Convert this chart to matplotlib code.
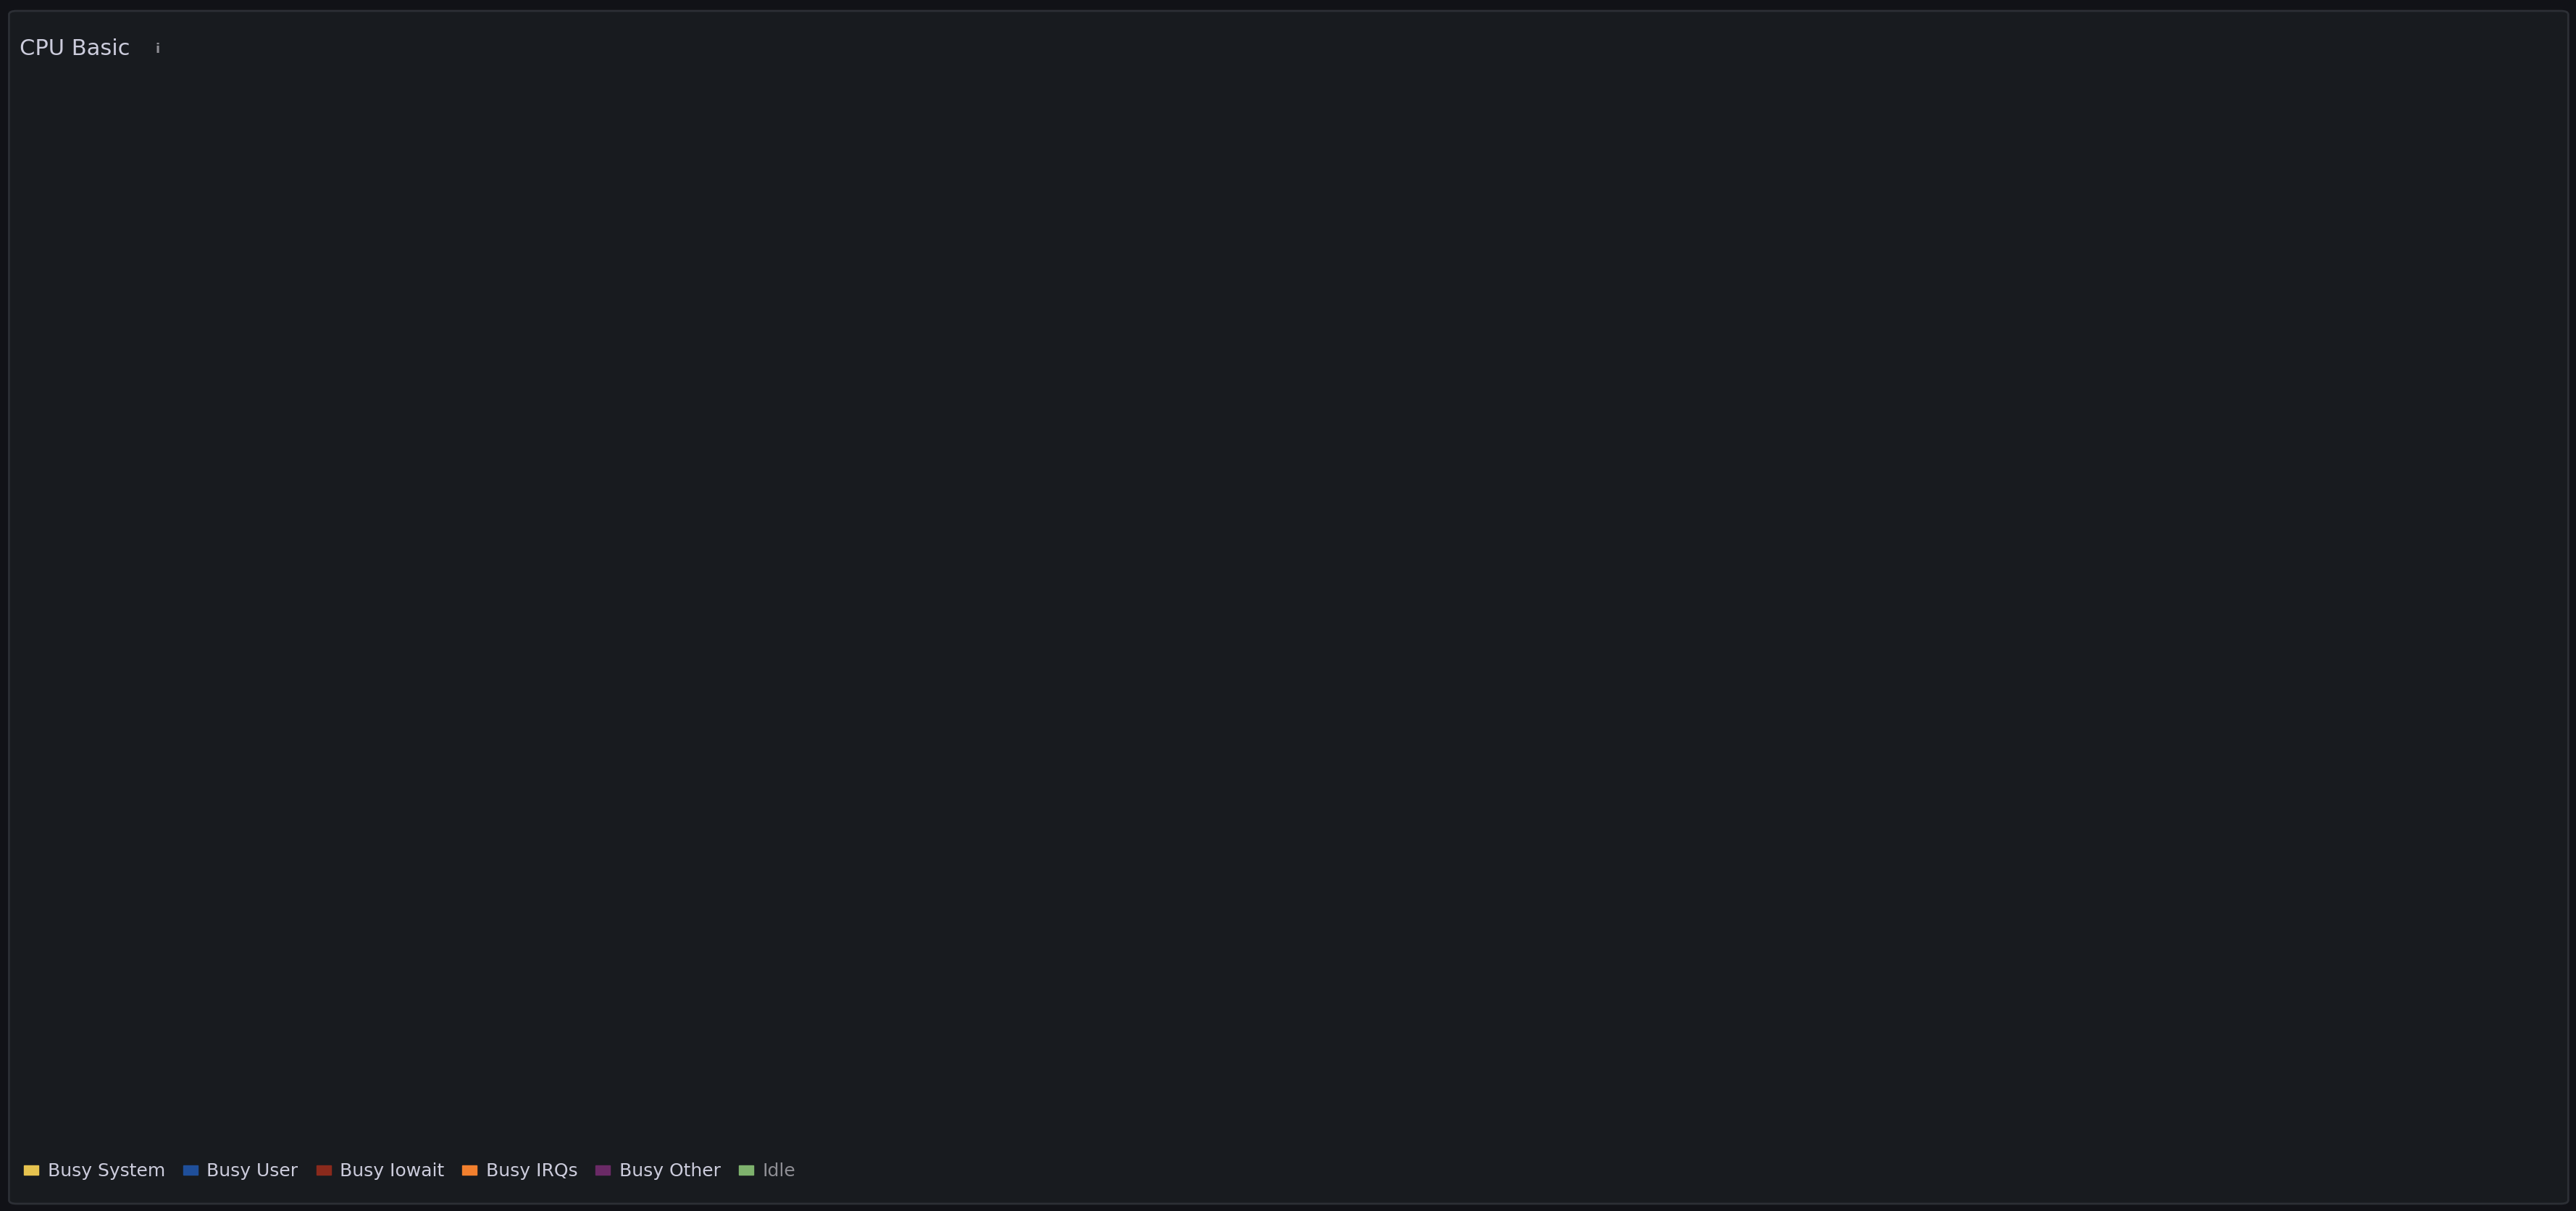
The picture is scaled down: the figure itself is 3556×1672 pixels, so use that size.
import matplotlib
matplotlib.use("Agg")
import matplotlib.pyplot as plt
import matplotlib.dates as mdates
from matplotlib.patches import FancyBboxPatch, Patch, Ellipse
import pandas as pd
import numpy as np

times = ["14:22","14:25","14:30","14:35","14:40","14:43","14:45","14:50","14:55","15:00","15:03","15:06",
         "15:10","15:15","15:20","15:25","15:30","15:35","15:40","15:43","15:45","15:50","15:55","16:00",
         "16:05","16:10","16:15","16:20","16:25","16:30","16:35","16:40","16:45","16:50","16:55","17:00",
         "17:01","17:05","17:10","17:15","17:20","17:25","17:30","17:35","17:40","17:43","17:45","17:50",
         "17:55","18:00","18:05","18:10","18:15","18:20","18:25","18:30","18:33","18:35","18:40","18:45",
         "18:50","18:52","18:55","19:00","19:05","19:10","19:15","19:20","19:23","19:25","19:30","19:35",
         "19:40","19:45","19:50","19:55","20:00","20:05","20:10","20:15","20:20","20:25","20:30","20:35",
         "20:40","20:45","20:50","20:55","21:00","21:05","21:10","21:15","21:20","21:25","21:30","21:35",
         "21:40","21:44"]
total = [18.0,17.7,17.4,17.9,18.1,18.5,17.4,17.2,17.1,17.6,18.2,17.6,
         18.0,17.6,17.5,17.6,17.0,17.5,17.8,18.2,17.5,16.9,17.1,17.3,
         17.8,17.2,18.7,17.5,17.2,18.0,17.3,17.0,17.1,16.7,16.8,17.2,
         18.1,17.3,17.8,17.5,17.3,17.2,17.0,18.0,18.8,18.1,18.6,19.7,
         19.2,18.3,18.8,17.7,18.3,18.9,18.2,18.2,17.6,18.7,18.1,18.4,
         18.6,17.8,18.9,19.5,18.2,17.9,17.6,18.0,19.2,18.3,18.2,17.7,
         17.9,17.8,17.8,18.0,18.4,18.1,18.3,18.2,18.6,18.1,18.1,18.9,
         18.8,19.1,18.8,18.2,18.4,19.5,18.2,17.9,17.9,17.8,18.5,19.4,
         19.0,19.1]
busy_system = [3.3,3.3,3.2,3.5,3.4,3.6,3.3,3.3,3.2,3.4,3.4,3.4,
               3.5,3.3,3.3,3.3,3.1,3.2,3.2,3.3,3.2,3.1,3.1,3.3,
               3.3,3.3,3.4,3.7,3.3,3.3,3.6,3.4,3.2,3.0,3.2,3.1,
               3.1,3.4,3.2,3.3,3.3,3.2,3.1,3.8,4.0,4.1,4.0,4.1,
               4.2,4.1,4.0,4.2,4.2,4.1,4.0,3.9,4.0,4.0,3.9,3.9,
               4.0,4.1,4.2,4.0,3.9,3.8,3.7,3.9,3.9,3.9,3.8,3.9,
               3.8,3.7,3.8,3.9,3.9,3.9,3.9,3.8,3.9,3.8,3.8,4.3,
               4.1,4.2,4.2,3.9,3.9,3.9,3.9,3.8,3.8,3.8,3.8,3.9,
               3.8,3.9]
busy_iowait = [0.12]*len(times)
busy_irqs = [0.08]*83 + [0.25,0.30,0.30,0.28,0.10] + [0.08]*10
busy_other = [0.1]*len(times)
legend_labels = ["Busy System","Busy User","Busy Iowait","Busy IRQs","Busy Other","Idle"]
yticks = list(range(0, 101, 5))

t = pd.to_datetime(["2024-01-01 " + s for s in times])
sysv = np.array(busy_system)
io = np.array(busy_iowait); irq = np.array(busy_irqs); oth = np.array(busy_other)
user = np.array(total) - sysv - io - irq - oth

BG = "#181b1f"
fig = plt.figure(figsize=(35.56, 16.72), dpi=100, facecolor="#111217")
fig.patches.append(FancyBboxPatch((0.0035, 0.006), 0.9935, 0.985, boxstyle="round,pad=0,rounding_size=0.003",
                                  transform=fig.transFigure, facecolor=BG, edgecolor="#2c2f35", linewidth=2))
ax = fig.add_axes([0.0242, 0.082, 0.9626, 0.852])
ax.set_facecolor(BG)

layers = [(sysv, "#6b5b34", "#e6c34f"), (user, "#1c2a43", "#1f4f9a"),
          (io, "#7a2218", "#a3261a"), (irq, "#c0642a", "#f2802e"), (oth, "#5a2a5a", "#7a3a78")]
base = np.zeros(len(times))
for vals, fc, lc in layers:
    top = base + vals
    ax.fill_between(t, base, top, color=fc, linewidth=0, zorder=2)
    ax.plot(t, top, color=lc, linewidth=1.8, zorder=3)
    base = top

ax.set_xlim(pd.Timestamp("2024-01-01 14:22"), pd.Timestamp("2024-01-01 21:44"))
ax.set_ylim(0, 100)
ax.set_yticks(yticks)
ax.xaxis.set_major_locator(mdates.MinuteLocator(byminute=[0, 15, 30, 45]))
ax.xaxis.set_major_formatter(mdates.DateFormatter("%H:%M"))
ax.grid(True, color="#2a2d32", linewidth=1.2, zorder=0)
for s in ax.spines.values():
    s.set_visible(False)
ax.tick_params(colors="#ccccdc", labelsize=19, length=0, pad=14)

tm = pd.Timestamp("2024-01-01 17:30")
ax.axvline(tm, color="#5cc4f2", linestyle=(0, (4, 3)), linewidth=1.6, zorder=5)
ax.plot([tm], [0], marker="^", color="#5cc4f2", markersize=12, clip_on=False, zorder=6)

fig.text(0.0075, 0.9595, "CPU Basic", color="#ccccdc", fontsize=22, va="center", ha="left")
fig.text(0.0612, 0.9595, "i", color="#8e8e94", fontsize=13, va="center", ha="center", fontweight="bold")
fig.add_artist(Ellipse((0.0612, 0.9596), 0.0078, 0.0166, transform=fig.transFigure,
                       fill=False, edgecolor="#8e8e94", linewidth=1.6))

colors = ["#e6c34f", "#1f4f9a", "#8a2a1c", "#f2802e", "#6a2a66", "#7eb26d"]
handles = [Patch(facecolor=c, edgecolor=c) for c in colors]
leg = fig.legend(handles, legend_labels, loc="lower left", bbox_to_anchor=(0.003, 0.012), ncol=6,
                 frameon=False, fontsize=18, handlelength=0.8, handleheight=0.45, handletextpad=0.5,
                 columnspacing=1.0)
for txt, c in zip(leg.get_texts(), ["#ccccdc"] * 5 + ["#8e8e94"]):
    txt.set_color(c)

fig.savefig("out.png", dpi=100, facecolor=fig.get_facecolor())
